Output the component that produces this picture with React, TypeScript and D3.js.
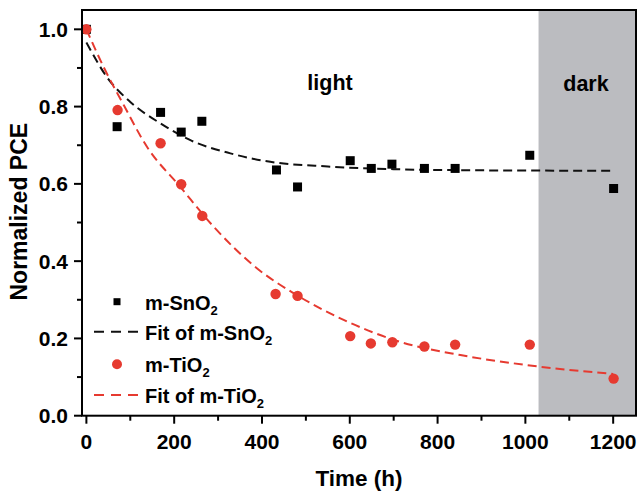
import React from "react";
import * as d3 from "d3";

// ---- data ----
const timeSnO2 = [0, 70, 169, 216, 263, 433, 481, 601, 649, 696, 770, 840, 1010, 1201];
const pceSnO2 = [1.0, 0.748, 0.785, 0.734, 0.762, 0.636, 0.592, 0.66, 0.64, 0.651, 0.64, 0.64, 0.674, 0.588];

const timeTiO2 = [0, 71, 169, 216, 264, 431, 481, 601, 648, 697, 770, 840, 1010, 1201];
const pceTiO2 = [1.0, 0.791, 0.705, 0.599, 0.517, 0.315, 0.31, 0.206, 0.187, 0.19, 0.179, 0.184, 0.184, 0.096];

// fitted curves
const fitTimeSnO2 = [0, 47, 100, 168, 237, 328, 419, 550, 700, 900, 1200];
const fitPceSnO2 = [0.966, 0.876, 0.812, 0.757, 0.713, 0.679, 0.657, 0.645, 0.638, 0.635, 0.634];

const fitTimeTiO2 = [0, 39, 85, 138, 214, 290, 389, 472, 586, 715, 852, 1003, 1200];
const fitPceTiO2 = [1.0, 0.903, 0.804, 0.696, 0.592, 0.489, 0.381, 0.317, 0.248, 0.191, 0.157, 0.131, 0.108];

const xTicks = [0, 200, 400, 600, 800, 1000, 1200];
const xMinorTicks = [100, 300, 500, 700, 900, 1100];
const yTicks = [0, 0.2, 0.4, 0.6, 0.8, 1.0];
const yMinorTicks = [0.1, 0.3, 0.5, 0.7, 0.9];
const darkStart = 1030;

const W = 639;
const H = 495;
const left = 82;
const right = 636;
const top = 10;
const bottom = 415.7;

const RED = "#e63a30";
const GRAY = "#bbbcc0";
const FONT = "'Liberation Sans', Arial, sans-serif";

export default function App() {
  const x = d3.scaleLinear().domain([-10, 1252]).range([left, right]);
  const y = d3.scaleLinear().domain([0, 1.05]).range([bottom, top]);

  const line = d3
    .line<[number, number]>()
    .x((d) => x(d[0]))
    .y((d) => y(d[1]))
    .curve(d3.curveMonotoneX);

  const fitSn = line(fitTimeSnO2.map((t, i) => [t, fitPceSnO2[i]] as [number, number])) || "";
  const fitTi = line(fitTimeTiO2.map((t, i) => [t, fitPceTiO2[i]] as [number, number])) || "";

  const sq = 9;
  const r = 5.2;

  const legendX = 117;
  const legendTextX = 145;
  const rows = [301.7, 331.7, 364.3, 395];

  return (
    <svg
      width={W}
      height={H}
      style={{ position: "absolute", left: 0, top: 0, background: "#fff" }}
      fontFamily={FONT}
      fontWeight="bold"
    >
      <defs>
        <clipPath id="plot">
          <rect x={left} y={top} width={right - left} height={bottom - top} />
        </clipPath>
      </defs>
      {/* dark region */}
      <rect x={x(darkStart)} y={top} width={right - x(darkStart)} height={bottom - top} fill={GRAY} />

      <g clipPath="url(#plot)">
        <path d={fitSn} fill="none" stroke="#111" strokeWidth={2} strokeDasharray="9,5" />
        <path d={fitTi} fill="none" stroke={RED} strokeWidth={2} strokeDasharray="9,5" />
        {timeSnO2.map((t, i) => (
          <rect key={"s" + i} x={x(t) - sq / 2} y={y(pceSnO2[i]) - sq / 2} width={sq} height={sq} fill="#000" />
        ))}
        {timeTiO2.map((t, i) => (
          <circle key={"c" + i} cx={x(t)} cy={y(pceTiO2[i])} r={r} fill={RED} />
        ))}
      </g>

      {/* frame */}
      <rect x={left} y={top} width={right - left} height={bottom - top} fill="none" stroke="#000" strokeWidth={2} />

      {/* x ticks */}
      {xTicks.map((t) => (
        <g key={"xt" + t}>
          <line x1={x(t)} x2={x(t)} y1={bottom} y2={bottom + 8} stroke="#000" strokeWidth={2} />
          <text x={x(t)} y={449} textAnchor="middle" fontSize={21}>
            {t}
          </text>
        </g>
      ))}
      {xMinorTicks.map((t) => (
        <line key={"xm" + t} x1={x(t)} x2={x(t)} y1={bottom} y2={bottom + 5} stroke="#000" strokeWidth={2} />
      ))}

      {/* y ticks */}
      {yTicks.map((t) => (
        <g key={"yt" + t}>
          <line x1={left - 8} x2={left} y1={y(t)} y2={y(t)} stroke="#000" strokeWidth={2} />
          <text x={68} y={y(t)} dy="0.36em" textAnchor="end" fontSize={21}>
            {t.toFixed(1)}
          </text>
        </g>
      ))}
      {yMinorTicks.map((t) => (
        <line key={"ym" + t} x1={left - 5} x2={left} y1={y(t)} y2={y(t)} stroke="#000" strokeWidth={2} />
      ))}

      {/* axis titles */}
      <text x={359} y={486} textAnchor="middle" fontSize={22.5}>
        Time (h)
      </text>
      <text
        transform={`translate(27, ${(121.7 + 301.7) / 2}) rotate(-90)`}
        textAnchor="middle"
        fontSize={23}
      >
        Normalized PCE
      </text>

      {/* region labels */}
      <text x={330} y={90} textAnchor="middle" fontSize={21.5}>
        light
      </text>
      <text x={586} y={90.5} textAnchor="middle" fontSize={21.5}>
        dark
      </text>

      {/* legend */}
      <rect x={legendX - 3.5} y={rows[0] - 3.5} width={7} height={7} fill="#000" />
      <text x={legendTextX} y={rows[0] + 8} fontSize={20}>
        m-SnO<tspan dy={5} fontSize={13}>2</tspan>
      </text>

      <line x1={94} x2={138} y1={rows[1]} y2={rows[1]} stroke="#111" strokeWidth={2} strokeDasharray="10,7" />
      <text x={legendTextX} y={rows[1] + 8} fontSize={20}>
        Fit of m-SnO<tspan dy={5} fontSize={13}>2</tspan>
      </text>

      <circle cx={legendX} cy={rows[2]} r={5} fill={RED} />
      <text x={legendTextX} y={rows[2] + 8} fontSize={20}>
        m-TiO<tspan dy={5} fontSize={13}>2</tspan>
      </text>

      <line x1={94} x2={138} y1={rows[3]} y2={rows[3]} stroke={RED} strokeWidth={2} strokeDasharray="10,7" />
      <text x={legendTextX} y={rows[3] + 8} fontSize={20}>
        Fit of m-TiO<tspan dy={5} fontSize={13}>2</tspan>
      </text>
    </svg>
  );
}
